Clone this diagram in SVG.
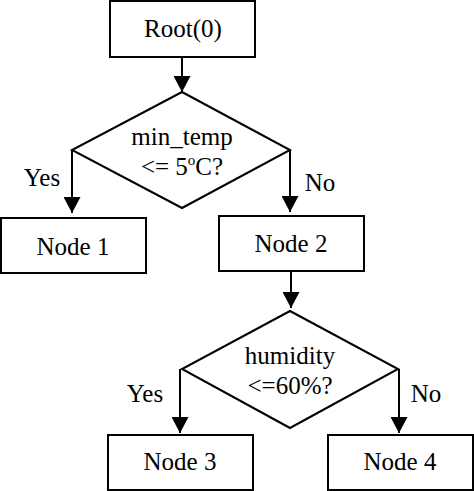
<svg xmlns="http://www.w3.org/2000/svg" width="474" height="491" viewBox="0 0 474 491">
<defs>
<marker id="arr" markerWidth="16" markerHeight="17" refX="16" refY="8.5" orient="auto" markerUnits="userSpaceOnUse" viewBox="0 0 16 17">
<path d="M0,0 L16,8.5 L0,17 Z" fill="#000"/>
</marker>
</defs>
<style>
.box{fill:#fff;stroke:#000;stroke-width:2}
.c{fill:none;stroke:#000;stroke-width:2}
</style>
<rect width="474" height="491" fill="#fff"/>
<g font-family="Liberation Serif, Times New Roman, Tinos, DejaVu Serif, Noto Serif, serif" font-size="25" text-anchor="middle" fill="#000">
<g id="connectors">
<line class="c" x1="182" y1="57" x2="182" y2="92" marker-end="url(#arr)"/>
<line class="c" x1="72" y1="150" x2="72" y2="213" marker-end="url(#arr)"/>
<line class="c" x1="290" y1="150" x2="290" y2="212" marker-end="url(#arr)"/>
<line class="c" x1="291" y1="271" x2="291" y2="308" marker-end="url(#arr)"/>
<line class="c" x1="180" y1="369" x2="180" y2="433" marker-end="url(#arr)"/>
<line class="c" x1="399" y1="369" x2="399" y2="433" marker-end="url(#arr)"/>
<text x="42" y="186">Yes</text>
<text x="320" y="191">No</text>
<text x="145" y="402">Yes</text>
<text x="426" y="402">No</text>
</g>
<g id="root">
<rect class="box" x="110" y="1" width="145" height="56"/>
<text x="183" y="37">Root(0)</text>
</g>
<g id="decision1">
<polygon class="box" points="182,92 290,150 182,208 72,150"/>
<text x="182" y="145">min_temp</text>
<text x="182" y="175">&lt;= 5<tspan font-size="15" dy="-10">o</tspan><tspan dy="10">C?</tspan></text>
</g>
<g id="node1">
<rect class="box" x="1" y="218" width="145" height="55"/>
<text x="73" y="255">Node 1</text>
</g>
<g id="node2">
<rect class="box" x="219" y="216" width="145" height="55"/>
<text x="291" y="252">Node 2</text>
</g>
<g id="decision2">
<polygon class="box" points="290,311 398,369 290,428 182,369"/>
<text x="290" y="364">humidity</text>
<text x="290" y="394">&lt;=60%?</text>
</g>
<g id="node3">
<rect class="box" x="108" y="435" width="145" height="55"/>
<text x="180" y="470">Node 3</text>
</g>
<g id="node4">
<rect class="box" x="328" y="435" width="145" height="55"/>
<text x="400" y="470">Node 4</text>
</g>
</g>
</svg>
